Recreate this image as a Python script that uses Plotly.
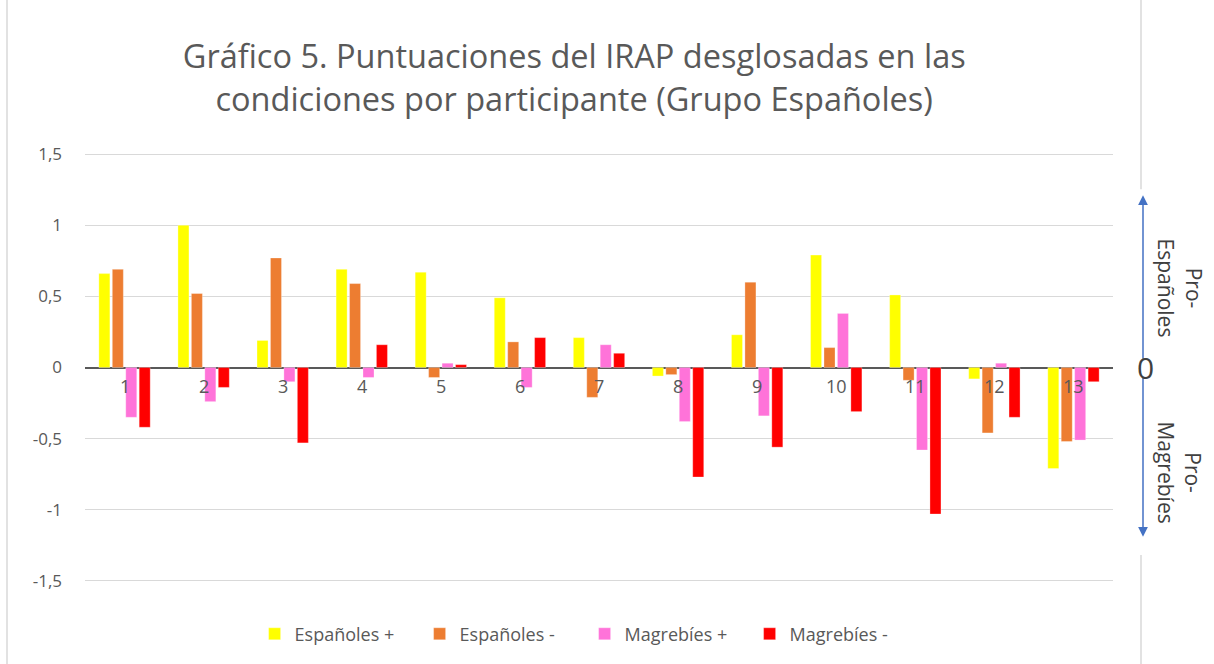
import plotly.graph_objects as go

# Participants (Grupo Españoles)
participantes = ['1', '2', '3', '4', '5', '6', '7', '8', '9', '10', '11', '12', '13']

# IRAP scores by condition
espanoles_pos = [0.66, 1.00, 0.19, 0.69, 0.67, 0.49, 0.21, -0.06, 0.23, 0.79, 0.51, -0.08, -0.71]
espanoles_neg = [0.69, 0.52, 0.77, 0.59, -0.07, 0.18, -0.21, -0.05, 0.60, 0.14, -0.09, -0.46, -0.52]
magrebies_pos = [-0.35, -0.24, -0.10, -0.07, 0.03, -0.14, 0.16, -0.38, -0.34, 0.38, -0.58, 0.03, -0.51]
magrebies_neg = [-0.42, -0.14, -0.53, 0.16, 0.02, 0.21, 0.10, -0.77, -0.56, -0.31, -1.03, -0.35, -0.10]

series_names = ['Españoles +', 'Españoles -', 'Magrebíes +', 'Magrebíes -']
series_values = [espanoles_pos, espanoles_neg, magrebies_pos, magrebies_neg]
series_colors = ['#FFFF00', '#ED7D31', '#FF73D9', '#FF0000']

y_ticks = [-1.5, -1, -0.5, 0, 0.5, 1, 1.5]
y_ticktext = ['-1,5', '-1', '-0,5', '0', '0,5', '1', '1,5']

GRAY = '#595959'
FONT = 'Open Sans'

fig = go.Figure()
for name, vals, col in zip(series_names, series_values, series_colors):
    fig.add_trace(go.Bar(
        x=participantes, y=vals, name=name,
        marker=dict(color=col, line=dict(color='rgba(255,255,255,0.6)', width=0.5)),
    ))

# category labels sit just under the zero line (category index on the x axis)
for i, p in enumerate(participantes):
    fig.add_annotation(x=i, y=0, text=p, showarrow=False, yanchor='top', yshift=-4,
                       font=dict(family=FONT, size=18, color=GRAY))

# right-hand side: arrows and labels
px_x = lambda px: (px - 85) / 1028
fig.add_annotation(xref='paper', x=px_x(1143), yref='y', y=1.21, ax=0, ay=165,
                   text='', showarrow=True, arrowhead=2, arrowsize=1.3, arrowwidth=1.5,
                   arrowcolor='#4472C4')
fig.add_annotation(xref='paper', x=px_x(1143), yref='y', y=-1.19, ax=0, ay=-161,
                   text='', showarrow=True, arrowhead=2, arrowsize=1.3, arrowwidth=1.5,
                   arrowcolor='#4472C4')
fig.add_annotation(xref='paper', x=px_x(1145), xanchor='center', yref='y', y=0, text='0',
                   showarrow=False, font=dict(family=FONT, size=30, color='#404040'))
fig.add_annotation(xref='paper', x=px_x(1180), xanchor='center', yref='y', y=(368 - 288) / 142.4,
                   text='Pro-<br>Españoles', textangle=90, showarrow=False,
                   font=dict(family=FONT, size=21, color='#404040'))
fig.add_annotation(xref='paper', x=px_x(1180), xanchor='center', yref='y', y=(368 - 473) / 142.4,
                   text='Pro-<br>Magrebíes', textangle=90, showarrow=False,
                   font=dict(family=FONT, size=21, color='#404040'))

# chart border
border = dict(color='#D9D9D9', width=1.5)
fig.add_shape(type='line', xref='paper', yref='paper', x0=px_x(7), x1=px_x(7), y0=-0.2, y1=1.4, line=border)
fig.add_shape(type='line', xref='paper', yref='paper', x0=px_x(1141), x1=px_x(1141),
              y0=(589 - 190) / 441.4, y1=1.4, line=border)
fig.add_shape(type='line', xref='paper', yref='paper', x0=px_x(1141), x1=px_x(1141),
              y0=-0.2, y1=(589 - 556) / 441.4, line=border)

fig.update_layout(
    width=1214, height=664,
    margin=dict(l=85, r=101, t=147, b=75),
    paper_bgcolor='white', plot_bgcolor='white',
    title=dict(text='Gráfico 5. Puntuaciones del IRAP desglosadas en las<br>condiciones por participante (Grupo Españoles)',
               x=0.473, xanchor='center', y=0.897, yanchor='middle',
               font=dict(family=FONT, size=32.5, color=GRAY)),
    barmode='group', bargap=0.32, bargroupgap=0.18,
    showlegend=True,
    legend=dict(orientation='h', x=0.486, xanchor='center', y=-0.102, yanchor='middle',
                font=dict(family=FONT, size=18, color=GRAY), itemwidth=30,
                entrywidth=120),
    font=dict(family=FONT, color=GRAY),
)
fig.update_xaxes(type='category', showticklabels=False, showgrid=False, zeroline=False, showline=False)
fig.update_yaxes(range=[-1.55, 1.55], tickvals=y_ticks, ticktext=y_ticktext,
                 gridcolor='#D9D9D9', gridwidth=1, zeroline=True, zerolinecolor='#595959', zerolinewidth=2,
                 tickfont=dict(family=FONT, size=17, color=GRAY), ticks='', ticklabelstandoff=22)

fig.write_html('out.html', config={'displayModeBar': False},
               post_script="document.body.style.margin='0';")
